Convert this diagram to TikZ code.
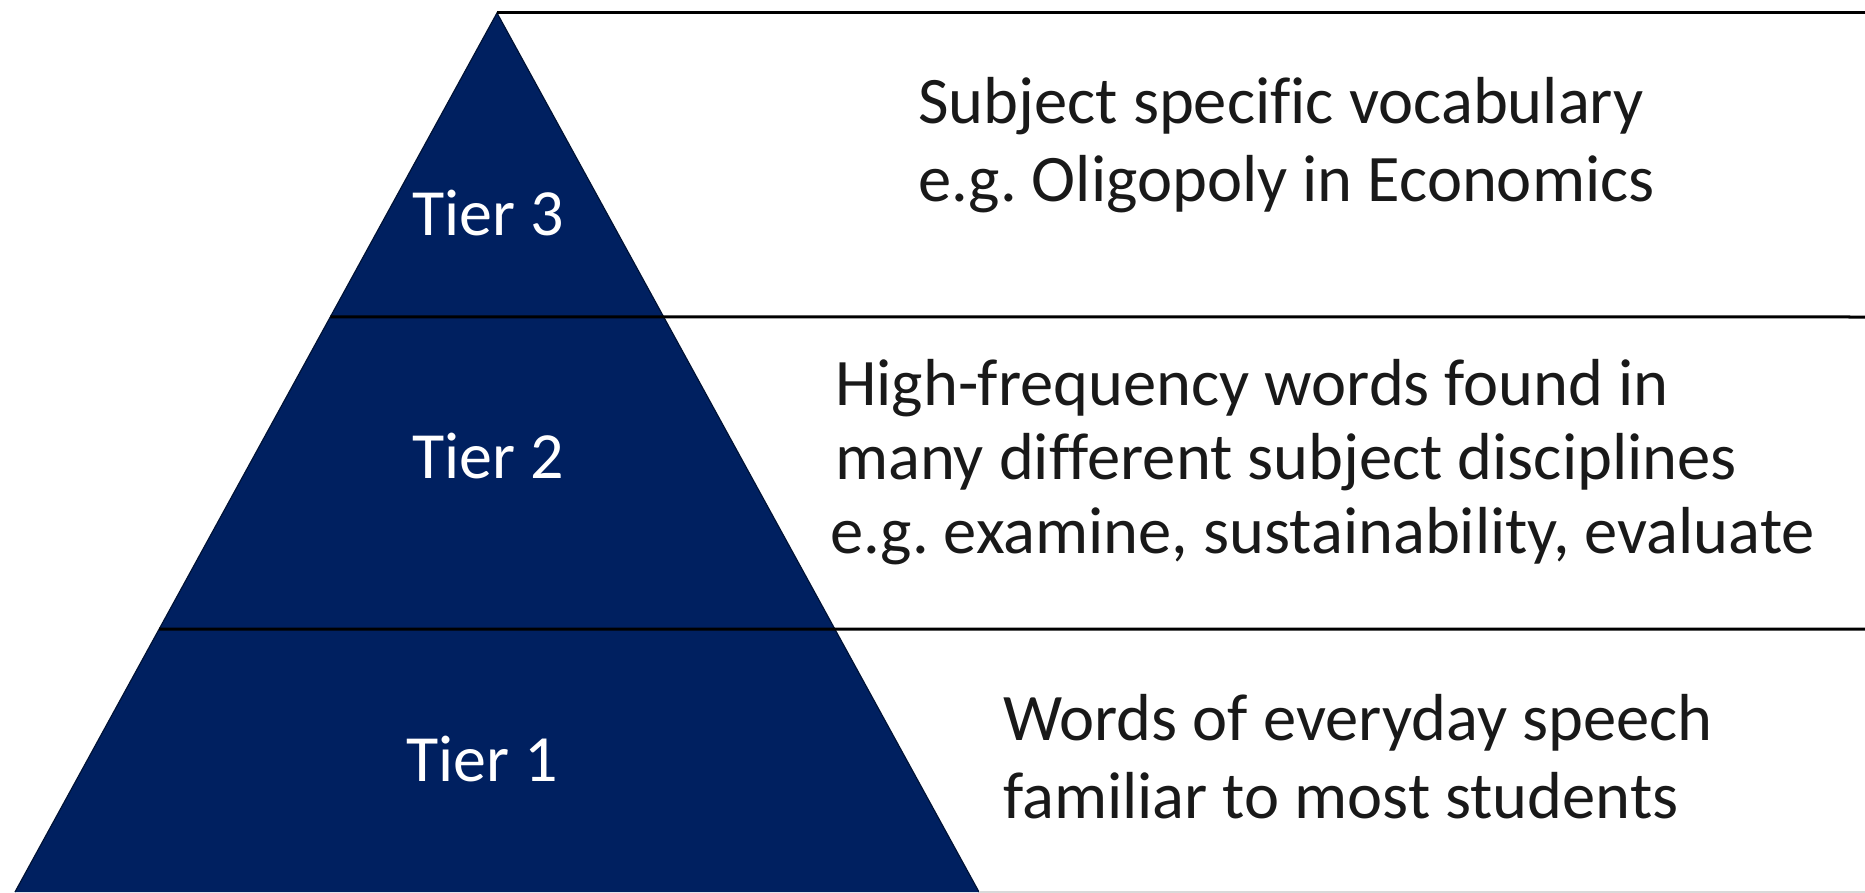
\documentclass[tikz,border=0pt]{standalone}
\usepackage{fontspec}
\setmainfont[Ligatures={NoCommon}]{Carlito}
\usetikzlibrary{calc}
\definecolor{tiernavy}{RGB}{0,32,96}
\frenchspacing
\begin{document}
\begin{tikzpicture}[x=1pt,y=-1pt,
  tierlabel/.style={text=white, font=\fontsize{66}{78}\selectfont, anchor=base, inner sep=0pt},
  desc/.style={text=black!90, font=\fontsize{66.5}{78}\selectfont, anchor=base west, inner sep=0pt},
  rule/.style={line width=3pt, black},
  faint/.style={line width=1.5pt, black!15}]
\useasboundingbox (0,0) rectangle (1865,893);
% pyramid corners
\coordinate (apex) at (497,13);
\coordinate (bl) at (15,892);
\coordinate (br) at (979,892);
% separators between the tiers
\coordinate (r2l) at ($(apex)!0.3458!(bl)$);
\coordinate (r3l) at ($(apex)!0.7008!(bl)$);
\coordinate (r1r) at (1865,13);
\coordinate (r2r) at (1865,317);
\coordinate (r3r) at (1865,629);
\coordinate (bbr) at (1865,892);
\coordinate (bbl) at (979,892);

\fill[tiernavy] (apex) -- (bl) -- (br) -- cycle;
\draw[tiernavy!55!black, line width=1.2pt] (bl) -- (apex) -- (br);

\draw[rule] (apex) -- (r1r);
\draw[rule] (r2l) -- (r2r);
\draw[rule] (r3l) -- (r3r);
\draw[faint] (bbl) -- (bbr);

% tier names
\node[tierlabel] (tier3) at (488,236) {Tier 3};
\node[tierlabel] (tier2) at (488,478) {Tier 2};
\node[tierlabel] (tier1) at (482,781) {Tier 1};

% descriptions
\node[desc] (d3a) at (918,124) {Subject specific vocabulary};
\node[desc] (d3b) at (918,202) {e.g. Oligopoly in Economics};
\node[desc] (d2a) at (835,405) {High-frequency words found in};
\node[desc] (d2b) at (835,479) {many different subject disciplines};
\node[desc] (d2c) at (830,553) {e.g. examine, sustainability, evaluate};
\node[desc] (d1a) at (1003,740) {Words of everyday speech};
\node[desc] (d1b) at (1003,818) {familiar to most students};
\end{tikzpicture}
\end{document}
